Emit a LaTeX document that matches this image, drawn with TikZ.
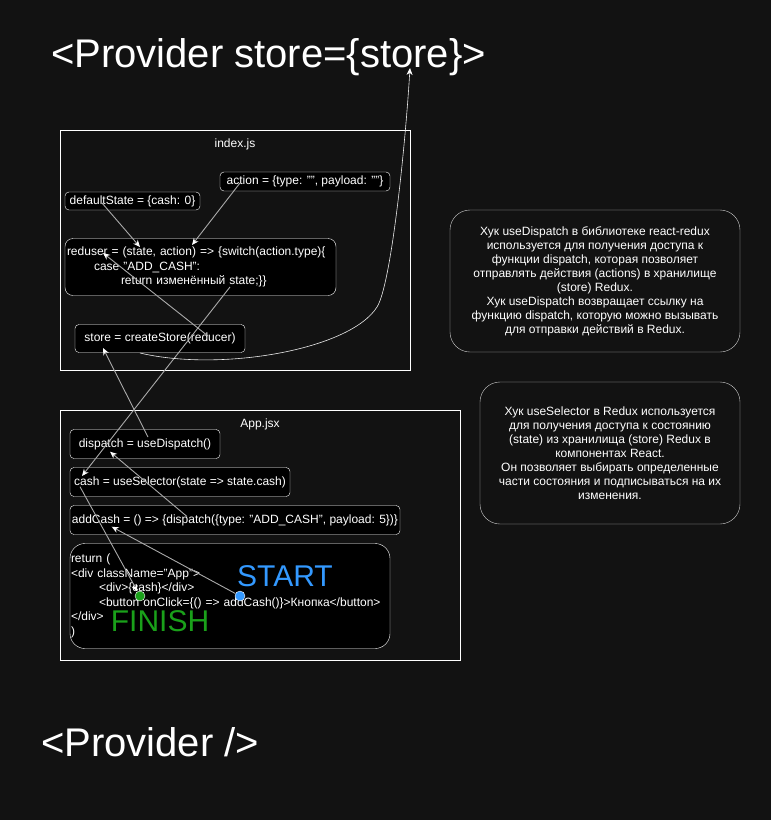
\documentclass[tikz,border=0pt]{standalone}
\usepackage{fontspec}
\setmainfont{Liberation Sans}
\usetikzlibrary{calc,arrows.meta}
\definecolor{bgdark}{RGB}{18,18,18}
\definecolor{linegray}{RGB}{170,170,170}
\definecolor{startblue}{RGB}{51,153,255}
\definecolor{finishgreen}{RGB}{26,160,26}
\begin{document}
\begin{tikzpicture}[x=1pt, y=-1pt, >={Stealth[length=7pt, width=6pt, color=white]}]
	\tikzset{
		filebox/.style={draw=white, fill=bgdark, inner sep=0pt},
		codebox/.style={draw=white, fill=black, text=white, rounded corners=4pt, inner sep=0pt,
				font=\fontsize{12}{14.5}\selectfont},
		notebox/.style={draw=white!80!black, fill=bgdark, text=white, rounded corners=20pt, inner sep=0pt,
				align=center, font=\fontsize{12}{14}\selectfont},
		filelabel/.style={text=white, font=\fontsize{12}{14}\selectfont},
		bigtitle/.style={text=white, inner sep=0pt, font=\fontsize{40}{44}\selectfont},
		dot/.style={circle, draw=white, line width=0.4pt, inner sep=0pt, minimum size=10pt},
		link/.style={draw=linegray, line width=0.9pt, ->},
	}
	\fill[bgdark] (0,0) rectangle (771,820);
	\node[bigtitle] (provopen) at (268.5,57) {<Provider store=\{store\}>};
	\node[bigtitle] (provclose) at (150,742) {<Provider />};
	% index.js
	\node[filebox, minimum width=350, minimum height=240] (indexjs) at (235,250) {};
	\node[filelabel] (indexlbl) at (235,144) {index.js};
	\node[codebox, minimum width=170, minimum height=19] (action) at (305,181.5)
	{action = \{type: "", payload: ""\}};
	\node[codebox, minimum width=135, minimum height=18] (dflt) at (132.5,201)
	{defaultState = \{cash: 0\}};
	\node[codebox, rounded corners=8pt, minimum width=271, minimum height=57, text width=267, align=left]
	(reduser) at (200.5,267)
	{reduser = (state, action) => \{switch(action.type)\{\\
		\hspace*{27pt}case "ADD\_CASH":\\
		\hspace*{54pt}return изменённый state;\}\}};
	\node[codebox, minimum width=170, minimum height=28] (store) at (160,338.5)
	{store = createStore(reducer)};
	% App.jsx
	\node[filebox, minimum width=400, minimum height=250] (appjsx) at (260,535) {};
	\node[filelabel] (applbl) at (260,424) {App.jsx};
	\node[codebox, minimum width=150, minimum height=29] (dispatch) at (145,444)
	{dispatch = useDispatch()};
	\node[codebox, minimum width=220, minimum height=29] (cash) at (180,482)
	{cash = useSelector(state => state.cash)};
	\node[codebox, minimum width=330, minimum height=29] (addcash) at (235,520)
	{addCash = () => \{dispatch(\{type: "ADD\_CASH", payload: 5\})\}};
	\node[codebox, rounded corners=15pt, minimum width=320, minimum height=105, text width=318, align=left]
	(jsxret) at (230,596)
	{return (\\
		<div className="App">\\
		\hspace*{28pt}<div>\{cash\}</div>\\
		\hspace*{28pt}<button onClick=\{() => addCash()\}>Кнопка</button>\\
		</div>\\
		)};
	\node[text=startblue, inner sep=0pt, font=\fontsize{30}{33}\selectfont] (start) at (285,576) {START};
	\node[text=finishgreen, inner sep=0pt, font=\fontsize{30}{33}\selectfont] (finish) at (160,621) {FINISH};
	\node[dot, fill=finishgreen] (gdot) at (140,596) {};
	\node[dot, fill=startblue] (bdot) at (240,596) {};
	% notes
	\node[notebox, minimum width=290, minimum height=142] (notedispatch) at (595,281)
	{Хук useDispatch в библиотеке react-redux\\
		используется для получения доступа к\\
		функции dispatch, которая позволяет\\
		отправлять действия (actions) в хранилище\\
		(store) Redux.\\
		Хук useDispatch возвращает ссылку на\\
		функцию dispatch, которую можно вызывать\\
		для отправки действий в Redux.};
	\node[notebox, minimum width=260, minimum height=142] (noteselector) at (610,453)
	{Хук useSelector в Redux используется\\
		для получения доступа к состоянию\\
		(state) из хранилища (store) Redux в\\
		компонентах React.\\
		Он позволяет выбирать определенные\\
		части состояния и подписываться на их\\
		изменения.};
	% links
	\draw[link] ($(dflt)+(-30.5,2)$) -- ($(reduser)+(-60.5,-20)$);
	\draw[link] ($(action)+(-65,1.5)$) -- ($(reduser)+(-8.5,-22)$);
	\draw[link] ($(store)+(48,-2.5)$) -- ($(reduser)+(-97.5,-14)$);
	\draw[link] ($(dispatch)+(3,-7)$) -- ($(store)+(-57,9.5)$);
	\draw[link] ($(reduser)+(29.5,20)$) -- ($(cash)+(-98,-6)$);
	\draw[link] ($(addcash)+(-48,-3.5)$) -- ($(dispatch)+(-35,7.7)$);
	\draw[link] ($(cash)+(-100,4.7)$) -- (gdot);
	\draw[link] (bdot) -- ($(addcash)+(-123.3,6.7)$);
	\draw[link, draw=white!92!black, line width=0.6pt] ($(store)+(-20,14.5)$)
	.. controls (220,372) and (350,350) .. (377,307)
	.. controls (391,285) and (405,150) .. ($(provopen)+(141.5,11)$);
\end{tikzpicture}
\end{document}
